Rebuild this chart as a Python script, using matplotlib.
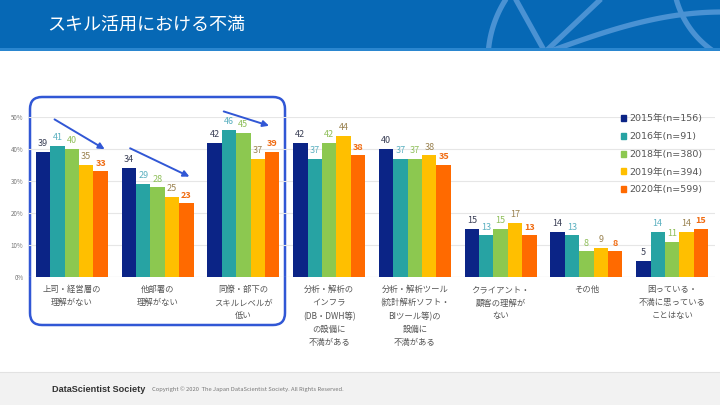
import matplotlib
matplotlib.use("Agg")
import matplotlib.pyplot as plt
import numpy as np
from matplotlib.patches import Rectangle, FancyBboxPatch, Patch

plt.rcParams['font.family'] = ['Noto Sans CJK JP', 'DejaVu Sans']

title = "スキル活用における不満"
categories = [
    "上司・経営層の\n理解がない",
    "他部署の\n理解がない",
    "同僚・部下の\nスキルレベルが\n低い",
    "分析・解析の\nインフラ\n(DB・DWH等)\nの設備に\n不満がある",
    "分析・解析ツール\n(統計解析ソフト・\nBIツール等)の\n設備に\n不満がある",
    "クライアント・\n顧客の理解が\nない",
    "その他",
    "困っている・\n不満に思っている\nことはない",
]
series_names = ["2015年(n=156)", "2016年(n=91)", "2018年(n=380)", "2019年(n=394)", "2020年(n=599)"]
v2015 = [39, 34, 42, 42, 40, 15, 14, 5]
v2016 = [41, 29, 46, 37, 37, 13, 13, 14]
v2018 = [40, 28, 45, 42, 37, 15, 8, 11]
v2019 = [35, 25, 37, 44, 38, 17, 9, 14]
v2020 = [33, 23, 39, 38, 35, 13, 8, 15]
yticks = [0, 10, 20, 30, 40, 50]

series = [v2015, v2016, v2018, v2019, v2020]
bar_colors = ["#0B2486", "#27A3A3", "#8CC850", "#FFBF00", "#FF6A00"]
label_colors = ["#3A3F55", "#5BB0C0", "#8FBF5A", "#9A8250", "#F06A10"]

fig = plt.figure(figsize=(7.2, 4.05), dpi=100)

# background / decoration axes in pixel coords
bg = fig.add_axes([0, 0, 1, 1], zorder=0)
bg.set_xlim(0, 720)
bg.set_ylim(405, 0)
bg.axis('off')
bg.add_patch(Rectangle((0, 0), 720, 50, color="#0668B5", lw=0))
deco = "#4A92D3"
t = np.linspace(0, 1, 60)
# header decoration curves (clipped to header band)
hdr_clip = Rectangle((0, 0), 720, 50, transform=bg.transData)
curves = []
ang = np.linspace(np.pi * 0.78, np.pi * 1.05, 60)
curves.append((600 + 112 * np.cos(ang), 60 - 112 * np.sin(ang)))
curves.append((np.array([515, 545]), np.array([-2, 52])))
curves.append((np.array([545, 602]), np.array([52, -2])))
ang2 = np.linspace(np.pi * 0.95, np.pi * 1.5, 60)
curves.append((765 + 92 * np.cos(ang2), -25 - 92 * np.sin(ang2)))
xs = np.linspace(548, 722, 60)
curves.append((xs, 52 - 40 * np.sin((xs - 548) / 174 * np.pi / 2)))
for cx, cy in curves:
    ln, = bg.plot(cx, cy, color=deco, lw=3.8, solid_capstyle="butt")
    ln.set_clip_path(hdr_clip)
bg.add_patch(Rectangle((0, 48), 720, 3, color="#2A86CF", lw=0, zorder=2))
bg.add_patch(Rectangle((0, 51), 720, 354, color="white", lw=0, zorder=1))
bg.text(47, 25, title, color="white", fontsize=13, va="center", ha="left", zorder=2)
# footer
bg.add_patch(Rectangle((0, 372), 720, 33, color="#F2F2F2", lw=0, zorder=2))
bg.plot([0, 720], [372, 372], color="#E2E2E2", lw=0.8, zorder=3)
bg.text(52, 389, "DataScientist Society",
        family=['Liberation Sans Narrow', 'Liberation Sans', 'DejaVu Sans'],
        fontsize=6.6, fontweight="bold", color="#333333", va="center", zorder=3)
bg.text(152, 389.5, "Copyright © 2020  The Japan DataScientist Society. All Rights Reserved.",
        fontsize=4.2, color="#777777", va="center", zorder=3)
# rounded highlight box
bg.add_patch(FancyBboxPatch((36, 103), 243, 216, boxstyle="round,pad=6,rounding_size=12",
                            fill=False, ec="#3157D5", lw=1.8, zorder=5))

ax = fig.add_axes([29 / 720, (405 - 277) / 405, 686 / 720, 160 / 405], zorder=3)
ax.patch.set_alpha(0)
x = np.arange(len(categories))
bw = 0.168
for i, vals in enumerate(series):
    pos = x + (i - 2) * bw
    ax.bar(pos, vals, width=bw, color=bar_colors[i], label=series_names[i], zorder=3)
    for p, v in zip(pos, vals):
        ax.text(p, v + 1.2, f"{v}", ha="center", va="bottom", fontsize=6.5,
                color=label_colors[i], fontweight="bold" if i == 4 else "normal",
                clip_on=False)

ax.set_xlim(-0.5, len(categories) - 0.5)
ax.set_ylim(0, 50)
ax.set_yticks(yticks)
ax.set_yticklabels([f"{t}%" for t in yticks], fontsize=4.5, color="#777777")
ax.tick_params(axis='y', length=0, pad=4)
ax.set_xticks(x)
ax.set_xticklabels(categories, fontsize=6, color="#555555", linespacing=1.58, va="top")
ax.tick_params(axis='x', length=0, pad=6)
ax.grid(axis='y', color="#E6E6E6", lw=0.8, zorder=0)
for s in ax.spines.values():
    s.set_visible(False)
ax.axhline(0, color="#D9D9D9", lw=0.8, zorder=2)

# trend arrows over first three groups
arrow_spec = [(0, -0.23, 49.7, 0.41, 39.5), (1, -0.35, 40.6, 0.40, 31.0), (2, -0.26, 52.0, 0.33, 47.0)]
for g, dx0, y0, dx1, y1 in arrow_spec:
    ax.annotate("", xy=(g + dx1, y1), xytext=(g + dx0, y0),
                arrowprops=dict(arrowstyle="-|>", color="#3157D5", lw=1.4, mutation_scale=9),
                annotation_clip=False)

handles = [Patch(color=c) for c in bar_colors]
leg = fig.legend(handles, series_names, loc="upper left", bbox_to_anchor=(612 / 720, 1 - 106 / 405),
                 frameon=False, handlelength=0.6, handleheight=0.6,
                 handletextpad=0.3, labelspacing=0.92,
                 prop={'family': ['DejaVu Sans', 'Noto Sans CJK JP'], 'size': 6.8})
for tx in leg.get_texts():
    tx.set_color("#555555")
leg.set_zorder(10)

fig.savefig("out.png", dpi=100)
